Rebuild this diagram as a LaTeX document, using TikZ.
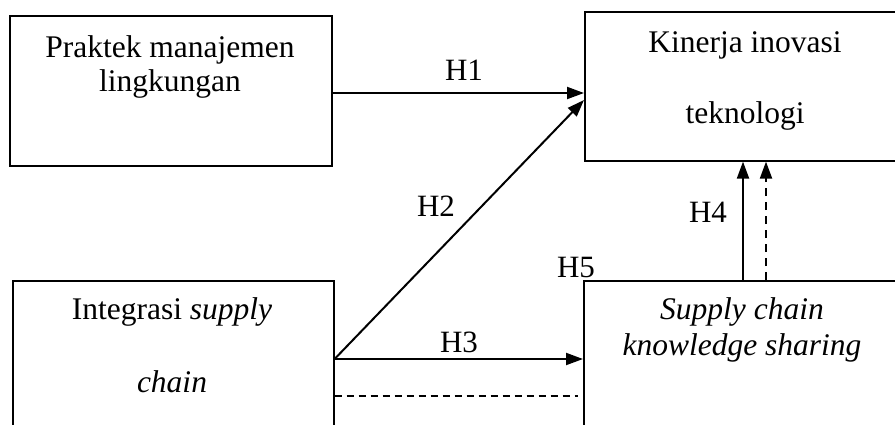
\documentclass[tikz,border=0pt]{standalone}
\usepackage{fontspec}
\setmainfont{Liberation Serif}
\usetikzlibrary{arrows.meta,calc}
\begin{document}
\begin{tikzpicture}[x=1pt,y=-1pt,
  box/.style={draw=black,line width=1.6pt,rectangle,inner sep=0pt,anchor=north west},
  txt/.style={inner sep=0pt,anchor=base,font=\fontsize{31.5}{36}\selectfont},
  lbl/.style={inner sep=0pt,anchor=base,font=\fontsize{31}{36}\selectfont},
  arr/.style={line width=2pt,-{Triangle[length=17pt,width=12pt]}},
  dsh/.style={line width=1.8pt,dash pattern=on 7pt off 5pt}]
\useasboundingbox (0,0) rectangle (895,424);
\clip (0,0) rectangle (895,424);
% boxes
\node[box,minimum width=322pt,minimum height=150pt] (pm) at (9,15) {};
\node[box,minimum width=314pt,minimum height=149pt] (ki) at (584,11) {};
\node[box,minimum width=321pt,minimum height=147pt] (is) at (12,280) {};
\node[box,minimum width=315pt,minimum height=147pt] (sc) at (583,280) {};
% texts
\node[txt] (t1) at (170,57) {Praktek manajemen};
\node[txt] (t2) at (170,91) {lingkungan};
\node[txt] (t3) at (745,52) {Kinerja inovasi};
\node[txt] (t4) at (745,123) {teknologi};
\node[txt] (t5) at (172,319) {Integrasi \textit{supply}};
\node[txt] (t6) at (172,392) {\textit{chain}};
\node[txt] (t7) at (742,319) {\textit{Supply chain}};
\node[txt] (t8) at (742,355) {\textit{knowledge sharing}};
% helper coordinates
\coordinate (y93) at (0,93);
\coordinate (y100) at (0,100);
\coordinate (y359) at (0,359);
\coordinate (y396) at (0,396);
\coordinate (x743) at (743,0);
\coordinate (x766) at (766,0);
\coordinate (de) at (578,396);
% connectors
\draw[arr] (pm.east |- y93) -- (ki.west |- y93);
\draw[arr] (is.east |- y359) -- (ki.west |- y100);
\draw[arr] (is.east |- y359) -- (sc.west |- y359);
\draw[dsh] (is.east |- y396) -- (de);
\draw[arr] (sc.north -| x743) -- (ki.south -| x743);
\draw[arr,dash pattern=on 8pt off 6pt] (sc.north -| x766) -- (ki.south -| x766);
% labels
\node[lbl] (H1) at (464,80) {H1};
\node[lbl] (H2) at (436,216) {H2};
\node[lbl] (H3) at (459,352) {H3};
\node[lbl] (H4) at (708,222) {H4};
\node[lbl] (H5) at (576,277) {H5};
\end{tikzpicture}
\end{document}
